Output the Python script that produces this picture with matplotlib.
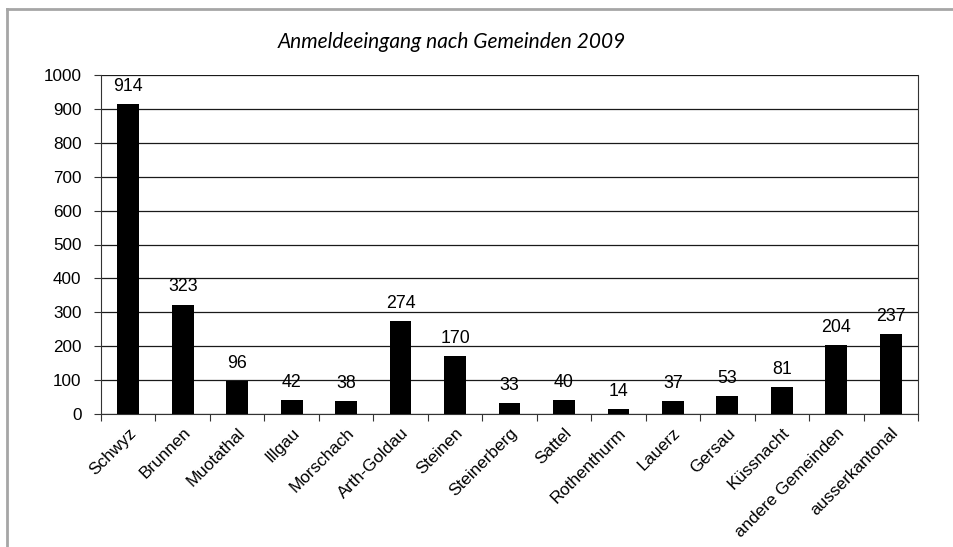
import matplotlib
matplotlib.use("Agg")
import matplotlib.pyplot as plt
from matplotlib.lines import Line2D

categories = ["Schwyz", "Brunnen", "Muotathal", "Illgau", "Morschach", "Arth-Goldau",
              "Steinen", "Steinerberg", "Sattel", "Rothenthurm", "Lauerz", "Gersau",
              "Küssnacht", "andere Gemeinden", "ausserkantonal"]
values = [914, 323, 96, 42, 38, 274, 170, 33, 40, 14, 37, 53, 81, 204, 237]
yticks = [0, 100, 200, 300, 400, 500, 600, 700, 800, 900, 1000]
title = "Anmeldeeingang nach Gemeinden 2009"

W, H = 954, 547
FS = 12.3
fig = plt.figure(figsize=(W / 100, H / 100), dpi=100)
fig.patch.set_facecolor("white")
ax = fig.add_axes([101 / W, 1 - 414 / H, (918 - 101) / W, (414 - 75) / H])

x = list(range(len(categories)))
ax.bar(x, values, width=0.40, color="black", zorder=3)
for xi, v in zip(x, values):
    ax.annotate(str(v), (xi, v), xytext=(0, 6.5), textcoords="offset points",
                ha="center", va="bottom", fontsize=FS + 0.5, family="Liberation Sans")

ax.set_xlim(-0.5, len(categories) - 0.5)
ax.set_ylim(0, 1000)
ax.set_yticks(yticks)
ax.set_yticklabels([str(t) for t in yticks], fontsize=FS, family="Liberation Sans")
ax.yaxis.grid(True, color="#1a1a1a", linewidth=0.9, zorder=0)
ax.set_axisbelow(True)

ax.set_xticks([i - 0.5 for i in range(len(categories) + 1)], minor=False)
ax.set_xticklabels([])
ax.set_xticks(x, minor=True)
ax.set_xticklabels(categories, minor=True, rotation=45, ha="right", va="top",
                   rotation_mode="anchor", fontsize=FS, family="Liberation Sans")
ax.tick_params(axis="x", which="minor", length=0, pad=8)
ax.tick_params(axis="x", which="major", length=5, direction="out", color="#333333")
ax.tick_params(axis="y", length=5, direction="out", color="#333333", pad=9)

ax.spines["top"].set_visible(False)
for s in ["left", "bottom", "right"]:
    ax.spines[s].set_color("#333333")

fig.text(452 / W, 1 - 42 / H, title, ha="center", va="center", fontsize=15,
         style="italic", family="Lato")

fig.add_artist(Line2D([7 / W, 7 / W], [0, 1 - 9 / H], transform=fig.transFigure,
                      color="#a6a6a6", linewidth=2))
fig.add_artist(Line2D([7 / W, 1], [1 - 9 / H, 1 - 9 / H], transform=fig.transFigure,
                      color="#a6a6a6", linewidth=2))

fig.savefig("out.png", dpi=100, facecolor="white")
